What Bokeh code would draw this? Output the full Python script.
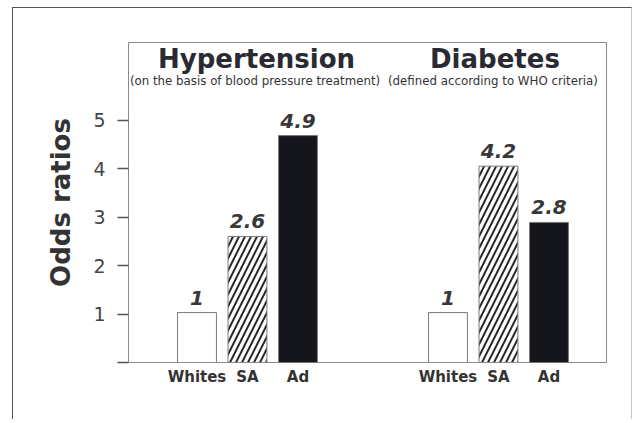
from bokeh.plotting import figure
from bokeh.models import Range1d, FixedTicker, ColumnDataSource
from bokeh.core.properties import value
from bokeh.embed import file_html
from bokeh.resources import INLINE

# ---- data ----
groups = ["Hypertension", "Diabetes"]
subtitles = ["(on the basis of blood pressure treatment)",
             "(defined according to WHO criteria)"]
categories = ["Whites", "SA", "Ad"]
hyp_labels = ["1", "2.6", "4.9"]
diab_labels = ["1", "4.2", "2.8"]
hyp_heights = [1.03, 2.6, 4.68]     # bar heights as drawn
diab_heights = [1.03, 4.05, 2.89]
y_ticks = [0, 1, 2, 3, 4, 5]

# ---- layout ----
group_start = [0.0, 4.97]
title_x = [1.18, 5.90]
subtitle_x = [1.15, 5.86]
bar_w = 0.77
fills = ["white", "white", "#15151c"]
hatches = [" ", "/", " "]

xs, tops, labs, fc, hp = [], [], [], [], []
for g, (heights, labels) in enumerate([(hyp_heights, hyp_labels), (diab_heights, diab_labels)]):
    for i, c in enumerate(categories):
        xs.append(group_start[g] + i)
        tops.append(heights[i])
        labs.append(labels[i])
        fc.append(fills[i])
        hp.append(hatches[i])

src = ColumnDataSource(dict(x=xs, top=tops, lab=labs, fc=fc, hp=hp))

p = figure(width=620, height=412, output_backend="svg", toolbar_location=None,
           x_range=Range1d(-1.356, 8.109), y_range=Range1d(0, 6.6),
           min_border_left=115, min_border_right=27, min_border_top=34, min_border_bottom=58)
p.margin = (7, 0, 0, 12)
p.styles = {"border-top": "1px solid #555", "border-left": "1px solid #555",
            "border-right": "1px solid #c8c8c8"}

p.background_fill_color = "white"
p.border_fill_color = "white"
p.outline_line_color = "#8a8a8a"
p.outline_line_width = 1
p.xgrid.visible = False
p.ygrid.visible = False

p.vbar(x="x", top="top", width=bar_w, bottom=0, source=src,
       fill_color="fc", line_color="#7a7a7a", line_width=1,
       hatch_pattern="hp", hatch_color="#2a2a2a", hatch_weight=2, hatch_scale=12)

p.text(x="x", y="top", text="lab", source=src, text_align="center",
       text_baseline="alphabetic", y_offset=-15,
       text_font=value("DejaVu Sans"), text_font_style="bold italic",
       text_font_size="20px", text_color="#383838")

p.text(x=title_x, y=[6.08, 6.08], text=groups, text_align="center",
       text_baseline="alphabetic", y_offset=-9, text_font=value("DejaVu Sans"),
       text_font_style="bold", text_font_size="26px", text_color="#2a2a33")
p.text(x=subtitle_x, y=[5.75, 5.75], text=subtitles, text_align="center",
       text_baseline="alphabetic", y_offset=-3, text_font=value("DejaVu Sans"),
       text_font_size="11.8px", text_color="#333333")

# x axis
p.xaxis.ticker = FixedTicker(ticks=xs)
p.xaxis.major_label_overrides = {x: categories[k % 3] for k, x in enumerate(xs)}
p.xaxis.axis_line_color = None
p.xaxis.major_tick_line_color = None
p.xaxis.minor_tick_line_color = None
p.xaxis.major_label_standoff = -1
p.xaxis.major_label_text_font = "DejaVu Sans"
p.xaxis.major_label_text_font_style = "bold"
p.xaxis.major_label_text_font_size = "15px"
p.xaxis.major_label_text_color = "#333333"

# y axis
p.yaxis.ticker = FixedTicker(ticks=y_ticks)
p.yaxis.major_label_overrides = {0: ""}
p.yaxis.axis_line_color = None
p.yaxis.major_tick_out = 11
p.yaxis.major_tick_in = 0
p.yaxis.major_tick_line_color = "#555555"
p.yaxis.major_tick_line_width = 1.5
p.yaxis.minor_tick_line_color = None
p.yaxis.major_label_standoff = 12
p.yaxis.major_label_text_font = "DejaVu Sans"
p.yaxis.major_label_text_font_size = "19px"
p.yaxis.major_label_text_color = "#444444"
p.yaxis.axis_label = "Odds ratios"
p.yaxis.axis_label_text_font = "DejaVu Sans"
p.yaxis.axis_label_text_font_style = "bold"
p.yaxis.axis_label_text_font_size = "26px"
p.yaxis.axis_label_text_color = "#333333"
p.yaxis.axis_label_standoff = 14

open("out.html", "w").write(file_html(p, INLINE))
